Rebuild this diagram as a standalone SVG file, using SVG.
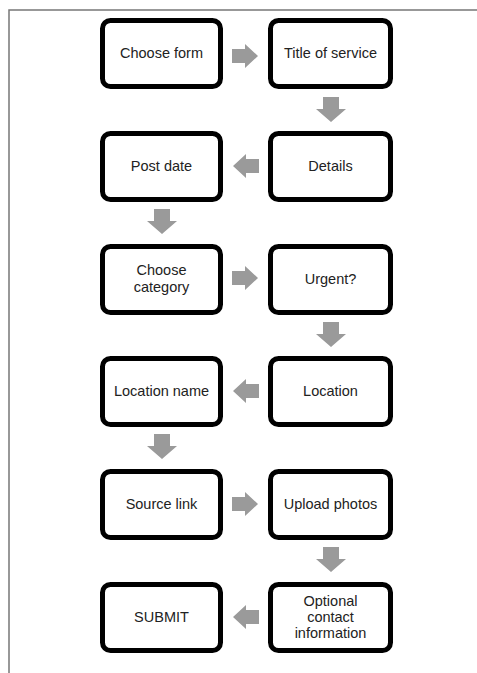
<svg xmlns="http://www.w3.org/2000/svg" width="477" height="673" viewBox="0 0 477 673">
<style>
.box{fill:#fff;stroke:#000;stroke-width:5}
.t{font-family:"Liberation Sans",Arial,sans-serif;font-size:14.5px;fill:#222;text-anchor:middle}
.arr{fill:#9a9a9a}
.frame{stroke:#777;stroke-width:1.5;fill:none}
</style>
<defs>
<polygon id="ar" points="-13,-7 0,-7 0,-12 13,0 0,12 0,7 -13,7"/>
<polygon id="al" points="13,-7 0,-7 0,-12 -13,0 0,12 0,7 13,7"/>
<polygon id="ad" points="-8,-12 8,-12 8,0 15,0 0,13 -15,0 -8,0"/>
</defs>
<path class="frame" d="M9,673 V10 H477"/>
<g id="connectors" class="arr">
<use href="#ar" x="245" y="56"/>
<use href="#ad" x="331" y="109"/>
<use href="#al" x="246" y="166"/>
<use href="#ad" x="162" y="221"/>
<use href="#ar" x="245" y="278"/>
<use href="#ad" x="331" y="334"/>
<use href="#al" x="246" y="391"/>
<use href="#ad" x="162" y="446"/>
<use href="#ar" x="245" y="504"/>
<use href="#ad" x="331" y="559"/>
<use href="#al" x="246" y="617"/>
</g>
<g id="n1"><rect class="box" x="102.5" y="20.5" width="118" height="66" rx="8"/><text class="t" x="161.5" y="58">Choose form</text></g>
<g id="n2"><rect class="box" x="270.5" y="20.5" width="120" height="66" rx="8"/><text class="t" x="330.5" y="58">Title of service</text></g>
<g id="n3"><rect class="box" x="270.5" y="133.5" width="120" height="66" rx="8"/><text class="t" x="330.5" y="171">Details</text></g>
<g id="n4"><rect class="box" x="102.5" y="133.5" width="118" height="66" rx="8"/><text class="t" x="161.5" y="171">Post date</text></g>
<g id="n5"><rect class="box" x="102.5" y="246.5" width="118" height="66" rx="8"/><text class="t" x="161.5" y="275">Choose</text><text class="t" x="161.5" y="292">category</text></g>
<g id="n6"><rect class="box" x="270.5" y="246.5" width="120" height="66" rx="8"/><text class="t" x="330.5" y="284">Urgent?</text></g>
<g id="n7"><rect class="box" x="270.5" y="358.5" width="120" height="66" rx="8"/><text class="t" x="330.5" y="396">Location</text></g>
<g id="n8"><rect class="box" x="102.5" y="358.5" width="118" height="66" rx="8"/><text class="t" x="161.5" y="396">Location name</text></g>
<g id="n9"><rect class="box" x="102.5" y="471.5" width="118" height="66" rx="8"/><text class="t" x="161.5" y="509">Source link</text></g>
<g id="n10"><rect class="box" x="270.5" y="471.5" width="120" height="66" rx="8"/><text class="t" x="330.5" y="509">Upload photos</text></g>
<g id="n11"><rect class="box" x="270.5" y="584.5" width="120" height="66" rx="8"/><text class="t" x="330.5" y="606">Optional</text><text class="t" x="330.5" y="622">contact</text><text class="t" x="330.5" y="638">information</text></g>
<g id="n12"><rect class="box" x="102.5" y="584.5" width="118" height="66" rx="8"/><text class="t" x="161.5" y="622">SUBMIT</text></g>
</svg>
